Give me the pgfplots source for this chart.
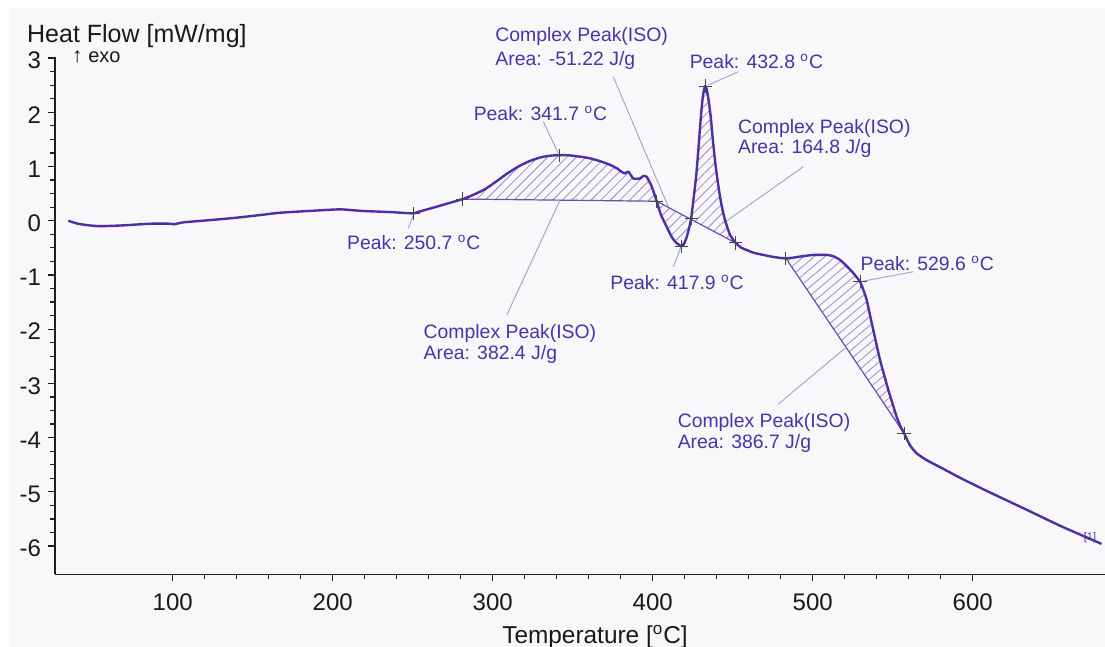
\documentclass[border=0pt]{standalone}
\usepackage{fontspec}
\setmainfont{Liberation Sans}
\usepackage{pgfplots}
\usepackage{pgfplotstable}
\pgfplotsset{compat=1.18}
\usepgfplotslibrary{fillbetween}
\usetikzlibrary{patterns.meta}

\definecolor{bgcol}{RGB}{248,248,250}
\definecolor{curvecol}{RGB}{80,45,165}
\definecolor{textcol}{RGB}{72,52,170}
\definecolor{hatchcol}{RGB}{150,140,210}
\definecolor{leadcol}{RGB}{160,160,215}
\definecolor{basecol}{RGB}{100,80,180}
\definecolor{crosscol}{RGB}{70,70,70}
\definecolor{axiscol}{RGB}{30,30,30}
\definecolor{labelcol}{RGB}{25,25,25}

\tikzset{
  annot/.style={font=\fontsize{9.7}{11}\selectfont, text=textcol,
    anchor=base west, inner sep=0pt},
  lead/.style={draw=leadcol, line width=0.45pt},
  hatch/.style={draw=none, pattern={Lines[angle=#1,distance=3.4pt,line width=0.4pt]}, pattern color=hatchcol},
}

% DSC heat flow trace, temperature [C] vs heat flow [mW/mg]
\pgfplotstableread{
T v
34.75 0.00
40.0 -0.05
46.25 -0.08
54.6 -0.10
69.1 -0.085
85.8 -0.055
99.4 -0.055
100.4 -0.067
106.6 -0.03
121.25 0.007
137.9 0.05
154.6 0.105
167.1 0.148
187.9 0.185
204.6 0.21
219.1 0.18
235.8 0.16
249.4 0.136
250.7 0.135
252.5 0.155
265 0.26
281.25 0.40
288 0.48
295 0.58
302 0.72
309 0.87
316 1.00
323 1.10
330 1.17
336 1.20
341.7 1.21
348 1.205
355 1.18
361 1.15
367 1.10
373.4 1.03
378 0.96
380.6 0.90
382.7 0.875
384.8 0.905
387.9 0.78
392 0.78
394.1 0.825
396.25 0.81
399.4 0.63
402.5 0.36
405 0.12
407.7 -0.05
410 -0.19
411.9 -0.30
414.5 -0.40
417.9 -0.47
419.5 -0.43
421.25 -0.30
422.7 -0.14
424 0.04
425.5 0.40
427.1 0.81
428.5 1.30
429.6 1.73
430.8 2.15
431.8 2.38
432.8 2.485
433.8 2.42
435 2.21
436.25 1.92
437.5 1.52
438.9 1.12
440.5 0.75
442.1 0.44
443.7 0.19
445.2 0.013
448.3 -0.26
451.9 -0.41
455 -0.49
458.75 -0.54
463 -0.59
469.1 -0.63
475 -0.665
479.6 -0.685
483.3 -0.695
488 -0.68
492.2 -0.66
500.4 -0.63
508.75 -0.63
513 -0.655
517 -0.72
521.25 -0.835
524 -0.92
526.4 -1.00
529.6 -1.125
531.5 -1.26
533.75 -1.46
535.8 -1.74
537.9 -2.02
540 -2.30
542.1 -2.57
544.7 -2.85
547.25 -3.12
550 -3.38
552.5 -3.62
555 -3.80
557.1 -3.92
560.8 -4.14
565 -4.29
571.25 -4.415
580 -4.55
592.1 -4.74
610 -5.00
633.75 -5.33
655 -5.63
677.5 -5.92
680.5 -5.96
}\dsc

% evaluated points (peaks, integration limits)
\pgfplotstableread{
T v
250.7 0.135
281.25 0.40
341.7 1.21
402.5 0.36
417.9 -0.47
424 0.04
432.8 2.485
451.9 -0.41
483.3 -0.695
529.6 -1.125
557.1 -3.92
}\marks

\begin{document}
\begin{tikzpicture}
\begin{axis}[
  at={(0pt,0pt)}, anchor=south west,
  set layers,
  scale only axis, width=525pt, height=258.65pt,
  xmin=26.4, xmax=682.7, ymin=-6.52, ymax=3.02,
  axis lines*=left,
  axis line style={draw=axiscol, line width=0.75pt},
  xtick={100,200,...,600}, ytick={-6,-5,...,3},
  minor x tick num=4, minor y tick num=3,
  tick align=outside, major tick length=3.5pt, minor tick length=2.5pt,
  tick style={draw=axiscol, line width=0.6pt},
  ticklabel style={font=\fontsize{12}{14}\selectfont, text=labelcol},
  xticklabel style={yshift=-2.5pt},
  yticklabel style={yshift=-1.2pt},
  /pgf/number format/assume math mode=true,
  clip=false,
  xlabel={Temperature [\textsuperscript{o}C]},
  xlabel style={at={(axis description cs:0.5143,0)}, anchor=base,
    yshift=-34.5pt, font=\fontsize{12.2}{14}\selectfont, text=labelcol},
]
% page background
\begin{pgfonlayer}{axis background}
\fill[white] (rel axis cs:-0.0524,-0.1406) rectangle (rel axis cs:1.0001,1.1103);
\fill[bgcol] (rel axis cs:-0.0429,-0.1406) rectangle (rel axis cs:1.0001,1.0947);
\end{pgfonlayer}
% baselines of the integrated peaks
\addplot[name path=b1, draw=basecol, line width=0.6pt] coordinates {(281.25,0.40) (402.5,0.36)};
\addplot[name path=b2, draw=basecol, line width=0.6pt] coordinates {(402.5,0.36) (451.9,-0.41)};
\addplot[name path=b3, draw=basecol, line width=0.6pt] coordinates {(483.3,-0.695) (557.1,-3.92)};
\addplot[name path=dsc, draw=none, smooth, tension=0.35, forget plot] table[x=T,y=v] {\dsc};
% hatched areas
\addplot[hatch=45] fill between[of=dsc and b1, soft clip={domain=281.25:402.5}];
\addplot[hatch=45] fill between[of=dsc and b2, soft clip={domain=402.5:451.9}];
\addplot[hatch=40] fill between[of=dsc and b3, soft clip={domain=483.3:557.1}];
% leader lines
\draw[lead] (axis cs:375.4,2.651) -- (axis cs:409.75,0.258);
\draw[lead] (axis cs:434.75,2.502) -- (axis cs:453.5,2.749);
\draw[lead] (axis cs:331.6,1.827) -- (axis cs:341,1.244);
\draw[lead] (axis cs:494.1,0.996) -- (axis cs:444.1,-0.048);
\draw[lead] (axis cs:250.4,0.105) -- (axis cs:247.25,-0.14);
\draw[lead] (axis cs:418.1,-0.448) -- (axis cs:412.9,-0.849);
\draw[lead] (axis cs:342.1,0.382) -- (axis cs:308.75,-1.74);
\draw[lead] (axis cs:529.6,-1.125) -- (axis cs:562.9,-0.94);
\draw[lead] (axis cs:478.5,-3.382) -- (axis cs:521.25,-2.325);
% curve
\addplot[draw=curvecol, line width=1.2pt, smooth, tension=0.35, line join=round] table[x=T,y=v] {\dsc};
% evaluation marks
\addplot[only marks, mark=+, mark size=3.3pt, mark options={draw=crosscol, line width=0.5pt}] table[x=T,y=v] {\marks};
% annotations
\node[annot] at (axis cs:301.4,3.297) {Complex Peak(ISO)};
\node[annot] at (axis cs:301.4,2.867) {Area: -51.22 J/g};
\node[annot] at (axis cs:422.9,2.804) {Peak: 432.8 \textsuperscript{o}C};
\node[annot] at (axis cs:287.9,1.852) {Peak: 341.7 \textsuperscript{o}C};
\node[annot] at (axis cs:453.1,1.618) {Complex Peak(ISO)};
\node[annot] at (axis cs:453.1,1.236) {Area: 164.8 J/g};
\node[annot] at (axis cs:208.75,-0.535) {Peak: 250.7 \textsuperscript{o}C};
\node[annot] at (axis cs:373.3,-1.273) {Peak: 417.9 \textsuperscript{o}C};
\node[annot] at (axis cs:256.6,-2.164) {Complex Peak(ISO)};
\node[annot] at (axis cs:256.6,-2.565) {Area: 382.4 J/g};
\node[annot] at (axis cs:529.7,-0.915) {Peak: 529.6 \textsuperscript{o}C};
\node[annot] at (axis cs:415.4,-3.806) {Complex Peak(ISO)};
\node[annot] at (axis cs:415.4,-4.207) {Area: 386.7 J/g};
\node[font=\fontsize{5.5}{6}\selectfont, text=textcol, inner sep=0pt] at (axis cs:673.3,-5.836) {[1]};
% y axis title
\node[anchor=base west, inner sep=0pt, font=\fontsize{12.5}{14}\selectfont, text=labelcol] at (axis cs:8.75,3.2915) {Heat Flow [mW/mg]};
\node[anchor=base west, inner sep=0pt, font=\fontsize{10}{12}\selectfont, text=labelcol] at (axis cs:36.9,2.92) {{\fontsize{10.5}{12}\selectfont ↑} exo};
\end{axis}
\pgfresetboundingbox
\useasboundingbox (-27.5pt,-36.35pt) rectangle (525pt,287.15pt);
\end{tikzpicture}
\end{document}
